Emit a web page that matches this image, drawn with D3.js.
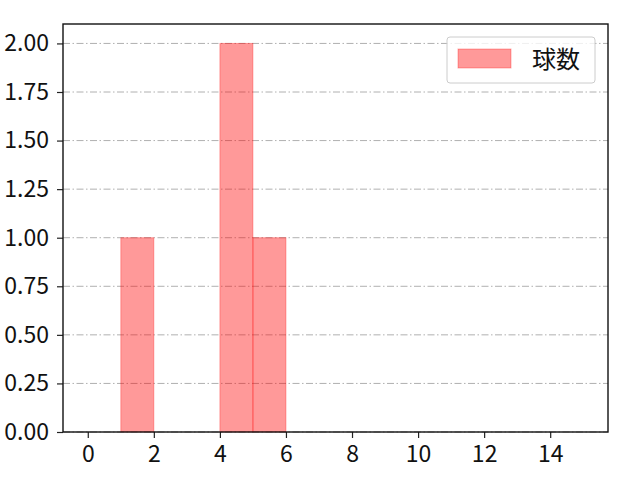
<!DOCTYPE html>
<html>
<head>
<meta charset="utf-8">
<script src="https://cdn.jsdelivr.net/npm/d3@7"></script>
<style>
body { margin: 0; background: #fff; }
text { font-family: "Noto Sans CJK JP", "DejaVu Sans", sans-serif; }
</style>
</head>
<body>
<div id="chart"></div>
<script>
// histogram bins (left edge, right edge) and counts
var binStarts = [1, 4, 5];
var binEnds = [2, 5, 6];
var counts = [1, 2, 1];
var xTicks = [0, 2, 4, 6, 8, 10, 12, 14];
var yTicks = [0, 0.25, 0.5, 0.75, 1.0, 1.25, 1.5, 1.75, 2.0];
var seriesName = "球数";

var margin = { top: 24, right: 32, bottom: 48, left: 63 },
    width = 640 - margin.left - margin.right,
    height = 480 - margin.top - margin.bottom;

var svg = d3.select("#chart").append("svg")
    .attr("width", 640)
    .attr("height", 480);

var g = svg.append("g")
    .attr("transform", "translate(" + margin.left + "," + margin.top + ")");

var x = d3.scaleLinear().domain([-0.75, 15.75]).range([0, width]);
var y = d3.scaleLinear().domain([0, 2.1]).range([height, 0]);

// grid lines
g.selectAll(".grid")
    .data(yTicks)
    .enter().append("line")
    .attr("x1", 0).attr("x2", width)
    .attr("y1", function (d) { return y(d); })
    .attr("y2", function (d) { return y(d); })
    .style("stroke", "#b0b0b0")
    .style("stroke-width", 1)
    .style("stroke-dasharray", "7,2.5,1.5,2.5");

// bars
var bars = binStarts.map(function (s, i) { return { x0: s, x1: binEnds[i], v: counts[i] }; });
g.selectAll(".bar")
    .data(bars)
    .enter().append("rect")
    .attr("x", function (d) { return x(d.x0); })
    .attr("width", function (d) { return x(d.x1) - x(d.x0); })
    .attr("y", function (d) { return y(d.v); })
    .attr("height", function (d) { return y(0) - y(d.v); })
    .style("fill", "red")
    .style("fill-opacity", 0.4)
    .style("stroke", "red")
    .style("stroke-opacity", 0.3)
    .style("stroke-width", 1);

// axes
var xAxis = g.append("g")
    .attr("transform", "translate(0," + height + ")")
    .call(d3.axisBottom(x).tickValues(xTicks).tickSize(6).tickPadding(8).tickFormat(d3.format("d")));
var yAxis = g.append("g")
    .call(d3.axisLeft(y).tickValues(yTicks).tickSize(6).tickPadding(8).tickFormat(d3.format(".2f")));

[xAxis, yAxis].forEach(function (a) {
    a.select(".domain").remove();
    a.selectAll("line").style("stroke", "#222").style("stroke-width", 1.2);
    a.selectAll("text").style("font-size", "23px").style("fill", "#111")
        .style("font-family", "'Noto Sans CJK JP', sans-serif");
});

// frame
g.append("rect")
    .attr("width", width).attr("height", height)
    .style("fill", "none").style("stroke", "#111").style("stroke-width", 1.4);

// legend
var leg = g.append("g").attr("transform", "translate(" + (447 - margin.left) + "," + (37 - margin.top) + ")");
leg.append("rect")
    .attr("width", 148).attr("height", 46).attr("rx", 3)
    .style("fill", "#fff").style("fill-opacity", 0.8)
    .style("stroke", "#ccc").style("stroke-width", 1);
leg.append("rect")
    .attr("x", 11).attr("y", 12).attr("width", 53).attr("height", 19)
    .style("fill", "red").style("fill-opacity", 0.4)
    .style("stroke", "red").style("stroke-opacity", 0.3);
leg.append("text")
    .attr("x", 85).attr("y", 31)
    .style("font-size", "24px").style("fill", "#111")
    .text(seriesName);
</script>
</body>
</html>
